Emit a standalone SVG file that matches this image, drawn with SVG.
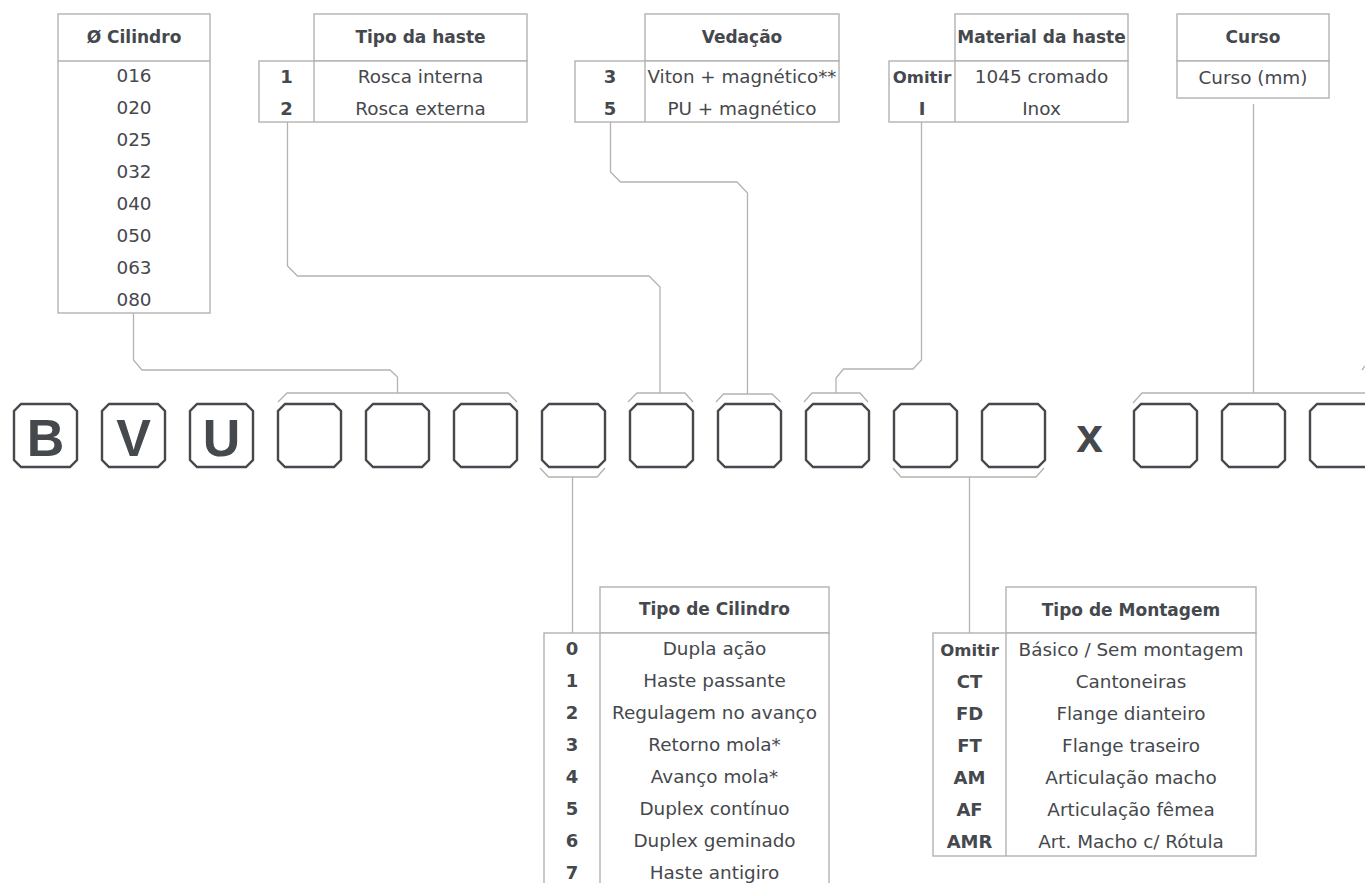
<svg xmlns="http://www.w3.org/2000/svg" width="1365" height="883" viewBox="0 0 1365 883">
<style>
  .tb{fill:#ffffff;stroke:#b2b2b2;stroke-width:1.4}
  .dv{stroke:#b2b2b2;stroke-width:1.4;fill:none}
  .cn{stroke:#b2b2b2;stroke-width:1.3;fill:none}
  .bx{fill:#ffffff;stroke:#45484c;stroke-width:2.4}
  .t{font-family:"DejaVu Sans","Liberation Sans",sans-serif;font-size:18.4px;fill:#45484c;text-anchor:middle}
  .h{font-family:"DejaVu Sans","Liberation Sans",sans-serif;font-size:17px;font-weight:bold;fill:#45484c;text-anchor:middle}
  .k{font-family:"DejaVu Sans","Liberation Sans",sans-serif;font-size:18px;font-weight:bold;fill:#45484c;text-anchor:middle}
  .ko{font-size:16.5px}
  .big{font-family:"Liberation Sans",Arial,sans-serif;font-size:52px;font-weight:bold;fill:#45484c;text-anchor:middle}
</style>
<defs>
  <path id="box" d="M7,0 H56 L63,7 V56 L56,63 H7 L0,56 V7 Z"/>
</defs>
<rect width="1365" height="883" fill="#ffffff"/>

<g id="connectors">
  <path class="cn" d="M133.5,313 V360 L142,370 H390 L397.5,377 V393"/>
  <path class="cn" d="M278,402 L287,393 H508 L517,402"/>
  <path class="cn" d="M287.5,122 V266 L297.5,276 H649 L660,287 V393"/>
  <path class="cn" d="M628,402 L637,393 H685 L693,402"/>
  <path class="cn" d="M610.5,122 V172 L620.5,182 H737 L747.5,193 V394"/>
  <path class="cn" d="M716,402 L723.5,394 H772 L780.5,402"/>
  <path class="cn" d="M921.5,122 V360 L913,369 H843.5 L836,378 V393"/>
  <path class="cn" d="M804,402 L812,393 H860 L868,402"/>
  <path class="cn" d="M1253.5,104 V393"/>
  <path class="cn" d="M1133,403 L1142,393 H1365"/>
  <path class="cn" d="M1362,370 L1365,366"/>
  <path class="cn" d="M540,468 L548.5,477 H597 L605,468"/>
  <path class="cn" d="M572.5,477 V633"/>
  <path class="cn" d="M893,468 L901,477 H1036 L1044,468"/>
  <path class="cn" d="M969.5,477 V633"/>
</g>

<g id="tbl-cilindro">
  <rect class="tb" x="58" y="14" width="152" height="299"/>
  <line class="dv" x1="58" y1="61" x2="210" y2="61"/>
  <text class="h" x="134" y="43">Ø Cilindro</text>
  <text class="t" x="134" y="82">016</text>
  <text class="t" x="134" y="114">020</text>
  <text class="t" x="134" y="146">025</text>
  <text class="t" x="134" y="178">032</text>
  <text class="t" x="134" y="210">040</text>
  <text class="t" x="134" y="242">050</text>
  <text class="t" x="134" y="274">063</text>
  <text class="t" x="134" y="306">080</text>
</g>

<g id="tbl-haste">
  <rect class="tb" x="314" y="14" width="213" height="47"/>
  <rect class="tb" x="259" y="61" width="268" height="61"/>
  <line class="dv" x1="314" y1="61" x2="314" y2="122"/>
  <text class="h" x="420.5" y="43">Tipo da haste</text>
  <text class="k" x="286.5" y="83">1</text>
  <text class="t" x="420.5" y="83">Rosca interna</text>
  <text class="k" x="286.5" y="114.5">2</text>
  <text class="t" x="420.5" y="114.5">Rosca externa</text>
</g>

<g id="tbl-vedacao">
  <rect class="tb" x="645" y="14" width="194" height="47"/>
  <rect class="tb" x="575" y="61" width="264" height="61"/>
  <line class="dv" x1="645" y1="61" x2="645" y2="122"/>
  <text class="h" x="742" y="43">Vedação</text>
  <text class="k" x="610" y="83">3</text>
  <text class="t" x="742" y="83" textLength="189" lengthAdjust="spacingAndGlyphs">Viton + magnético**</text>
  <text class="k" x="610" y="114.5">5</text>
  <text class="t" x="742" y="114.5">PU + magnético</text>
</g>

<g id="tbl-material">
  <rect class="tb" x="955" y="14" width="173" height="47"/>
  <rect class="tb" x="889" y="61" width="239" height="61"/>
  <line class="dv" x1="955" y1="61" x2="955" y2="122"/>
  <text class="h" x="1041.5" y="43">Material da haste</text>
  <text class="k ko" x="922" y="83">Omitir</text>
  <text class="t" x="1041.5" y="83">1045 cromado</text>
  <text class="k" x="922" y="114.5">I</text>
  <text class="t" x="1041.5" y="114.5">Inox</text>
</g>

<g id="tbl-curso">
  <rect class="tb" x="1177" y="14" width="152" height="47"/>
  <rect class="tb" x="1177" y="61" width="152" height="37"/>
  <text class="h" x="1253" y="43">Curso</text>
  <text class="t" x="1253" y="84">Curso (mm)</text>
</g>

<g id="code-B"><use href="#box" class="bx" x="14" y="404"/><text class="big" x="45.5" y="456">B</text></g>
<g id="code-V"><use href="#box" class="bx" x="102" y="404"/><text class="big" x="133.5" y="456">V</text></g>
<g id="code-U"><use href="#box" class="bx" x="190" y="404"/><text class="big" x="221.5" y="456">U</text></g>
<g id="code-4"><use href="#box" class="bx" x="278" y="404"/></g>
<g id="code-5"><use href="#box" class="bx" x="366" y="404"/></g>
<g id="code-6"><use href="#box" class="bx" x="454" y="404"/></g>
<g id="code-7"><use href="#box" class="bx" x="542" y="404"/></g>
<g id="code-8"><use href="#box" class="bx" x="630" y="404"/></g>
<g id="code-9"><use href="#box" class="bx" x="718" y="404"/></g>
<g id="code-10"><use href="#box" class="bx" x="806" y="404"/></g>
<g id="code-11"><use href="#box" class="bx" x="894" y="404"/></g>
<g id="code-12"><use href="#box" class="bx" x="982" y="404"/></g>
<g id="code-x"><text class="big" x="1089.5" y="452" style="font-size:48px">x</text></g>
<g id="code-13"><use href="#box" class="bx" x="1134" y="404"/></g>
<g id="code-14"><use href="#box" class="bx" x="1222" y="404"/></g>
<g id="code-15"><use href="#box" class="bx" x="1310" y="404"/></g>

<g id="tbl-tipo-cilindro">
  <rect class="tb" x="600" y="587" width="229" height="46"/>
  <rect class="tb" x="544" y="633" width="285" height="260"/>
  <line class="dv" x1="600" y1="633" x2="600" y2="893"/>
  <text class="h" x="714.5" y="615">Tipo de Cilindro</text>
  <text class="k" x="572" y="655">0</text><text class="t" x="714.5" y="655">Dupla ação</text>
  <text class="k" x="572" y="687">1</text><text class="t" x="714.5" y="687">Haste passante</text>
  <text class="k" x="572" y="719">2</text><text class="t" x="714.5" y="719">Regulagem no avanço</text>
  <text class="k" x="572" y="751">3</text><text class="t" x="714.5" y="751">Retorno mola*</text>
  <text class="k" x="572" y="783">4</text><text class="t" x="714.5" y="783">Avanço mola*</text>
  <text class="k" x="572" y="815">5</text><text class="t" x="714.5" y="815">Duplex contínuo</text>
  <text class="k" x="572" y="847">6</text><text class="t" x="714.5" y="847">Duplex geminado</text>
  <text class="k" x="572" y="879">7</text><text class="t" x="714.5" y="879">Haste antigiro</text>
</g>

<g id="tbl-montagem">
  <rect class="tb" x="1006" y="587" width="250" height="46"/>
  <rect class="tb" x="933" y="633" width="323" height="223"/>
  <line class="dv" x1="1006" y1="633" x2="1006" y2="856"/>
  <text class="h" x="1131" y="616">Tipo de Montagem</text>
  <text class="k ko" x="969.5" y="656">Omitir</text><text class="t" x="1131" y="656">Básico / Sem montagem</text>
  <text class="k" x="969.5" y="688">CT</text><text class="t" x="1131" y="688">Cantoneiras</text>
  <text class="k" x="969.5" y="720">FD</text><text class="t" x="1131" y="720">Flange dianteiro</text>
  <text class="k" x="969.5" y="752">FT</text><text class="t" x="1131" y="752">Flange traseiro</text>
  <text class="k" x="969.5" y="784">AM</text><text class="t" x="1131" y="784">Articulação macho</text>
  <text class="k" x="969.5" y="816">AF</text><text class="t" x="1131" y="816">Articulação fêmea</text>
  <text class="k" x="969.5" y="848">AMR</text><text class="t" x="1131" y="848">Art. Macho c/ Rótula</text>
</g>
</svg>
